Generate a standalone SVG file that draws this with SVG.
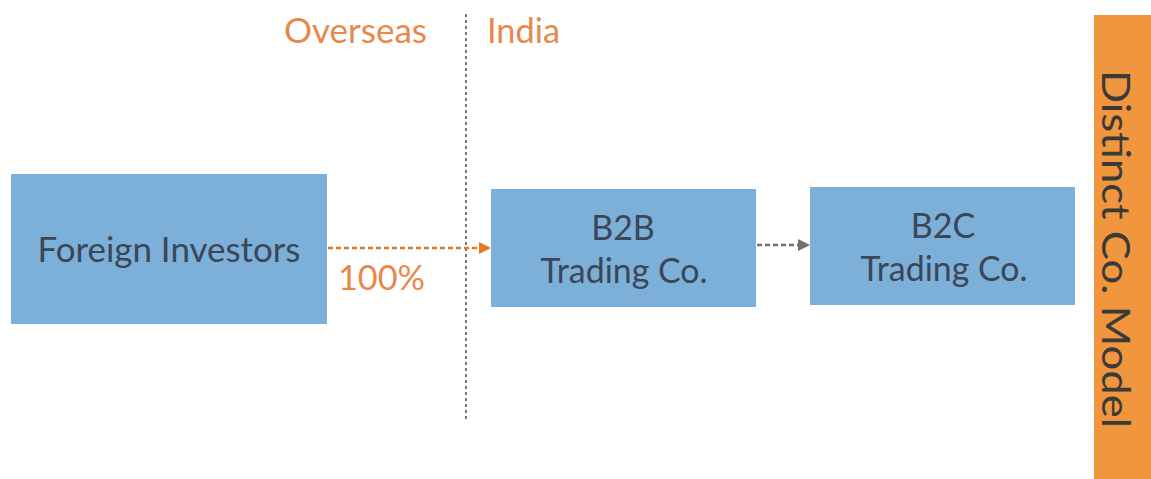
<svg xmlns="http://www.w3.org/2000/svg" width="1151" height="479" viewBox="0 0 1151 479">
<style>
.box{fill:#7db0d9}
.t{font-family:Lato,"Liberation Sans",sans-serif;font-size:34px;fill:#3b4656;text-anchor:middle}
.o{font-family:Lato,"Liberation Sans",sans-serif;font-size:34px;fill:#e8884a}
</style>
<defs>
<marker id="ao" markerWidth="12" markerHeight="12" refX="10" refY="6" orient="auto" markerUnits="userSpaceOnUse"><path d="M0,0 L12,6 L0,12 Z" fill="#e87722"/></marker>
<marker id="ag" markerWidth="12" markerHeight="12" refX="10" refY="6" orient="auto" markerUnits="userSpaceOnUse"><path d="M0,0 L12,6 L0,12 Z" fill="#707070"/></marker>
</defs>
<rect x="1094" y="15" width="57" height="464" fill="#f0963f"/>
<text transform="translate(1102,249) rotate(90)" font-family="Lato,'Liberation Sans',sans-serif" font-size="38" fill="#3b3a36" text-anchor="middle" textLength="358" lengthAdjust="spacingAndGlyphs">Distinct Co. Model</text>
<line x1="466" y1="14" x2="466" y2="422" stroke="#777" stroke-width="2" stroke-dasharray="3,3"/>
<text class="o" x="284" y="43" textLength="143" lengthAdjust="spacingAndGlyphs">Overseas</text>
<text class="o" x="487" y="43" textLength="73" lengthAdjust="spacingAndGlyphs">India</text>
<g id="n1"><rect class="box" x="11" y="174" width="316" height="150"/><text class="t" x="169" y="262" textLength="263" lengthAdjust="spacingAndGlyphs">Foreign Investors</text></g>
<g id="n2"><rect class="box" x="491" y="189" width="265" height="118"/><text class="t" x="623" y="240">B2B</text><text class="t" x="624" y="283" textLength="167" lengthAdjust="spacingAndGlyphs">Trading Co.</text></g>
<g id="n3"><rect class="box" x="810" y="187" width="265" height="118"/><text class="t" x="943" y="238">B2C</text><text class="t" x="944" y="281" textLength="167" lengthAdjust="spacingAndGlyphs">Trading Co.</text></g>
<g id="connectors">
<line x1="328" y1="248" x2="489" y2="248" stroke="#e87722" stroke-width="2.5" stroke-dasharray="5,3" marker-end="url(#ao)"/>
<line x1="757" y1="245" x2="808" y2="245" stroke="#707070" stroke-width="2.5" stroke-dasharray="5,3" marker-end="url(#ag)"/>
<text class="o" x="338" y="290" textLength="87" lengthAdjust="spacingAndGlyphs">100%</text>
</g>
</svg>
